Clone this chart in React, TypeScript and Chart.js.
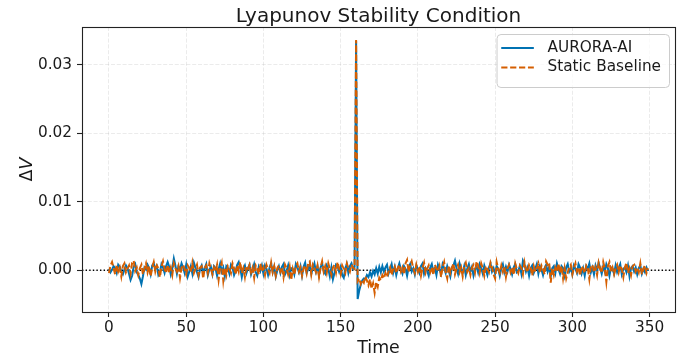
import React, { useEffect, useRef } from "react";
import { Chart, registerables } from "chart.js";

Chart.register(...registerables);

const TITLE = "Lyapunov Stability Condition";
const X_LABEL = "Time";
const SERIES_NAMES = ["AURORA-AI", "Static Baseline"];
const SERIES_COLORS = ["#0072B2", "#D55E00"];
const X_TICKS = [0, 50, 100, 150, 200, 250, 300, 350];
const Y_TICKS = [0, 0.01, 0.02, 0.03];
const X_RANGE = [-17.45, 366.45];
const Y_RANGE = [-0.00609, 0.03549];

// ΔV values, in units of 1e-4
const auroraE4 = [
  2, -3, 1, 6, 3, -4, 8, 5, -2, -6,
  1, 7, 3, -5, -14, -8, 5, 9, -3, -7,
  -12, -20, -9, 4, 1, 8, 3, -6, 7, 10,
  2, 6, -7, -3, 9, 4, -4, 6, 12, 5,
  -6, 3, 17, 7, -5, 6, 1, 10, 4, -4,
  8, -9, -2, 6, -5, 11, 4, -3, -10, 2,
  7, -4, 3, 9, -7, 1, 5, -6, 6, 3,
  -8, 2, 10, -2, 4, -9, 6, 3, -5, 8,
  4, -7, -1, 8, 12, 3, -10, 2, 7, -4,
  3, 8, -6, 1, 9, -3, -8, 5, -1, 7,
  -5, 7, 2, -7, 4, 10, -3, 5, -9, 0,
  6, -4, 5, 9, -6, -1, 7, -7, 3, 2,
  -6, 9, 4, -3, 6, -8, 5, 11, -4, 2,
  8, -5, 3, 10, -2, 6, -7, 4, 10, -1,
  -5, 7, 2, -9, 4, -13, -4, 8, 6, -2,
  5, -7, -11, 3, 9, -4, 6, 10, 2, 5,
  335, -42, -30, -21, -15, -12, -13, -7, -10, -3,
  -9, -1, -6, 3, -5, 5, -3, 6, -2, 4,
  8, -5, 2, 9, -4, 5, -7, 3, 10, 1,
  -5, 6, 2, -8, 4, 9, -2, 3, -6, 7,
  2, -4, 6, 10, -5, 3, -1, -8, 4, 9,
  -2, 3, -7, 8, 2, -5, 9, 3, -4, 6,
  -1, -9, 4, 7, 14, 3, -5, 10, 2, -4,
  6, -7, 3, 9, -2, 5, -8, 1, 6, -3,
  9, 3, -5, 7, 0, -7, 4, 10, -2, 3,
  -5, 6, 2, -8, 3, 9, -3, 5, -2, 8,
  2, -6, 4, 9, -3, -1, 6, -5, 14, 9,
  -2, 4, -8, 3, 7, -4, 2, 9, -5, 6,
  1, -7, 3, 8, -2, 5, -9, 3, 6, -4,
  10, 2, -5, 6, 3, -8, 4, 9, -2, 3,
  -6, 7, 2, -4, 9, 4, -5, 3, -8, 6,
  2, 10, -3, 4, -6, 7, 0, 11, 3, -5,
  6, -2, 9, 3, -8, 4, 2, -5, 7, -3,
  3, 9, -6, 2, 4, -3, 7, -9, 3, 6,
  -2, 4, -6, 3, 7, -5, 2, -3, 4, -1,
];

const baselineE4 = [
  -4, 7, 12, 3, -6, 8, -2, 4, -9, 6,
  10, -3, 2, 7, -5, 11, 14, -1, 4, -7,
  3, 8, -6, 2, 10, -3, 6, -9, 4, 12,
  -2, 7, 3, -10, 5, 13, 2, -4, 8, -3,
  4, -7, 10, 3, -2, 6, -11, 4, 8, 2,
  -6, 7, 3, -3, 11, -4, 2, 8, -7, 4,
  6, -12, 3, 7, -4, 10, 2, -6, 4, -2,
  8, -14, 3, 11, -15, 4, -7, 6, 2, -4,
  10, 3, -6, 7, -2, 12, -4, 3, -10, 6,
  2, 8, -3, 4, -11, 7, 3, -6, 10, -2,
  4, -7, 8, 2, -4, 11, -3, 6, -8, 3,
  7, -2, 4, -10, 8, 3, -6, 5, -14, 2,
  -7, 6, 10, -2, 4, -8, 3, 7, -4, 11,
  13, -6, 8, 3, -3, 7, -10, 4, 13, -2,
  6, -4, 10, 2, -7, 4, 8, -3, 12, 3,
  -6, 7, 2, -4, 10, 3, -2, 8, 4, 2,
  336, -16, -12, -20, -14, -18, -9, -15, -22, -13,
  -27, -19, -33, -17, -24, -11, -15, -7, -12, -4,
  -10, -2, 4, -7, 2, 6, -4, 3, 8, -2,
  4, -6, 10, 15, -3, 7, 13, 3, -4, 8,
  -2, 6, -8, 3, 11, -4, 2, 7, -3, 4,
  -7, 8, 3, -2, 6, -10, 4, 12, -3, -12,
  7, -4, 3, 10, -6, 2, 8, -3, 4, -9,
  6, 11, -2, 3, -7, 4, 8, -3, 13, 7,
  -4, 10, 3, -8, 6, 2, -3, 11, 4, -6,
  -12, 12, 2, -4, 7, -2, 6, -10, 3, 8,
  -3, 4, -7, 10, 2, -4, 7, 3, -6, 12,
  2, -3, 8, 4, -8, 6, -2, 3, 10, -4,
  7, 2, -6, 13, 8, 11, -18, 3, -7, 4,
  -2, 10, -4, 6, -12, 3, -12, -3, 4, 8,
  -6, 3, 10, -2, 4, -8, 6, 2, -4, 7,
  3, -13, 6, 8, -3, 4, -7, 11, 2, -4,
  12, 3, -17, 6, 12, -2, 4, -6, 3, 8,
  -3, 7, 2, -10, 4, 11, -4, 3, -7, 6,
  8, -2, 4, -3, 10, -6, 2, 7, -4, 3,
];

const FONT = '"DejaVu Sans", sans-serif';
const TEXT = "#1a1a1a";

const toPoints = (vals: number[]) => vals.map((v, i) => ({ x: i, y: v / 1e4 }));

const decorPlugin = {
  id: "decor",
  beforeDatasetsDraw(chart: any) {
    const { ctx, chartArea: a, scales } = chart;
    const y0 = scales.y.getPixelForValue(0);
    ctx.save();
    ctx.beginPath();
    ctx.rect(a.left, a.top, a.right - a.left, a.bottom - a.top);
    ctx.clip();
    ctx.strokeStyle = "#000";
    ctx.lineWidth = 1.3;
    ctx.setLineDash([1.4, 2.2]);
    ctx.beginPath();
    ctx.moveTo(a.left, y0);
    ctx.lineTo(a.right, y0);
    ctx.stroke();
    ctx.restore();
  },
  afterDatasetsDraw(chart: any) {
    const { ctx, chartArea: a } = chart;
    ctx.save();
    ctx.strokeStyle = "#222";
    ctx.lineWidth = 1.1;
    ctx.setLineDash([]);
    ctx.strokeRect(Math.round(a.left) + 0.5, Math.round(a.top) + 0.5, Math.round(a.right - a.left), Math.round(a.bottom - a.top));

    const cx = (a.left + a.right) / 2;
    ctx.fillStyle = TEXT;
    ctx.font = `20px ${FONT}`;
    ctx.textAlign = "center";
    ctx.textBaseline = "alphabetic";
    ctx.fillText(TITLE, cx, 21.5);
    ctx.font = `17.4px ${FONT}`;
    ctx.fillText(X_LABEL, cx, 353);

    const cy = (a.top + a.bottom) / 2;
    ctx.save();
    ctx.translate(31.5, cy);
    ctx.rotate(-Math.PI / 2);
    ctx.textAlign = "left";
    ctx.font = `17.4px ${FONT}`;
    const wD = ctx.measureText("Δ").width;
    ctx.font = `italic 17.4px ${FONT}`;
    const wV = ctx.measureText("V").width;
    const start = -(wD + wV) / 2;
    ctx.font = `17.4px ${FONT}`;
    ctx.fillText("Δ", start, 0);
    ctx.font = `italic 17.4px ${FONT}`;
    ctx.fillText("V", start + wD, 0);
    ctx.restore();

    const fs = 15.3;
    ctx.font = `${fs}px ${FONT}`;
    const tw = Math.max(...SERIES_NAMES.map((n) => ctx.measureText(n).width));
    const right = a.right - 6;
    const top = a.top + 7;
    const w = 51 + tw + 8;
    const left = right - w;
    const h = 53;
    ctx.beginPath();
    ctx.roundRect(left + 0.5, top + 0.5, w, h, 4);
    ctx.fillStyle = "rgba(255,255,255,0.8)";
    ctx.fill();
    ctx.strokeStyle = "#cccccc";
    ctx.lineWidth = 1;
    ctx.stroke();
    const rows = [top + 14, top + 33.5];
    SERIES_NAMES.forEach((name, i) => {
      const y = rows[i];
      ctx.strokeStyle = SERIES_COLORS[i];
      ctx.lineWidth = 2;
      ctx.setLineDash(i === 1 ? [6.2, 2.7] : []);
      ctx.beginPath();
      ctx.moveTo(left + 4.7, y);
      ctx.lineTo(left + 37.3, y);
      ctx.stroke();
      ctx.setLineDash([]);
      ctx.fillStyle = TEXT;
      ctx.textAlign = "left";
      ctx.textBaseline = "middle";
      ctx.fillText(name, left + 51, y);
    });
    ctx.restore();
  },
};

export default function App() {
  const ref = useRef<HTMLCanvasElement | null>(null);
  useEffect(() => {
    if (!ref.current) return;
    const gridCommon = {
      color: "rgba(176,176,176,0.25)",
      lineWidth: 1,
      tickLength: 5,
      tickColor: "#222",
      tickWidth: 1.1,
      tickBorderDash: [],
    };
    const chart = new Chart(ref.current, {
      type: "line",
      data: {
        datasets: [
          {
            label: SERIES_NAMES[0],
            data: toPoints(auroraE4),
            borderColor: SERIES_COLORS[0],
            backgroundColor: SERIES_COLORS[0],
            borderWidth: 2,
            pointRadius: 0,
            tension: 0,
            order: 1,
          },
          {
            label: SERIES_NAMES[1],
            data: toPoints(baselineE4),
            borderColor: SERIES_COLORS[1],
            backgroundColor: SERIES_COLORS[1],
            borderWidth: 2,
            borderDash: [6.2, 2.7],
            pointRadius: 0,
            tension: 0,
            order: 0,
          },
        ],
      },
      options: {
        animation: false,
        responsive: false,
        devicePixelRatio: 1,
        layout: { padding: { top: 27, right: 21, left: 0, bottom: 0 } },
        plugins: { legend: { display: false }, title: { display: false }, tooltip: { enabled: false } },
        scales: {
          x: {
            type: "linear",
            min: X_RANGE[0],
            max: X_RANGE[1],
            afterBuildTicks: (s: any) => {
              s.ticks = X_TICKS.map((v) => ({ value: v }));
            },
            afterFit: (s: any) => {
              s.height = 46;
            },
            ticks: {
              callback: (v: any) => String(v),
              font: { family: FONT, size: 15.3 },
              color: TEXT,
              padding: 2,
              maxRotation: 0,
              autoSkip: false,
            },
            grid: gridCommon,
            border: { display: false, dash: [4, 1.8] },
          },
          y: {
            type: "linear",
            min: Y_RANGE[0],
            max: Y_RANGE[1],
            afterBuildTicks: (s: any) => {
              s.ticks = Y_TICKS.map((v) => ({ value: v }));
            },
            afterFit: (s: any) => {
              s.width = 82;
            },
            ticks: {
              callback: (v: any) => Number(v).toFixed(2),
              font: { family: FONT, size: 15.3 },
              color: TEXT,
              padding: 5,
              autoSkip: false,
            },
            grid: gridCommon,
            border: { display: false, dash: [4, 1.8] },
          },
        },
      },
      plugins: [decorPlugin],
    } as any);
    return () => chart.destroy();
  }, []);
  return (
    <div style={{ position: "fixed", left: 0, top: 0, width: 696, height: 358, background: "#fff" }}>
      <canvas ref={ref} width={696} height={358} style={{ display: "block", width: 696, height: 358 }} />
    </div>
  );
}
